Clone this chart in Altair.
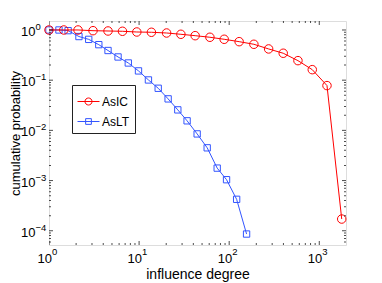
import altair as alt
import pandas as pd

# ---- data ----
series_names = ["AsIC", "AsLT"]
ic_x = [1, 1.46, 2.10, 3.08, 4.52, 6.54, 9.43, 13.7, 20.2, 29.1, 41.9, 61.1, 88, 129, 188, 274, 398, 580, 836, 1218, 1775]
ic_y = [1, 1, 1, 0.968, 0.955, 0.942, 0.912, 0.90, 0.871, 0.821, 0.77, 0.716, 0.653, 0.585, 0.519, 0.419, 0.344, 0.245, 0.162, 0.078, 1.71e-4]
lt_x = [1, 1.29, 1.63, 2.15, 2.76, 3.57, 4.52, 5.84, 7.59, 9.85, 12.7, 16.3, 21.0, 26.9, 34.1, 44.1, 57.0, 73.6, 93.5, 121, 156]
lt_y = [1, 1, 0.97, 0.74, 0.65, 0.51, 0.39, 0.29, 0.22, 0.153, 0.101, 0.069, 0.0424, 0.0256, 0.0155, 0.0085, 0.00449, 0.00177, 0.00104, 0.000423, 8.6e-5]

x_major = [1, 10, 100, 1000]
x_minor = [2, 3, 4, 5, 6, 7, 8, 9, 20, 30, 40, 50, 60, 70, 80, 90,
           200, 300, 400, 500, 600, 700, 800, 900]
x_exp = ["0", "1", "2", "3"]
y_major = [1, 0.1, 0.01, 0.001, 0.0001]
y_minor = [6e-5, 7e-5, 8e-5, 9e-5,
           2e-4, 3e-4, 4e-4, 5e-4, 6e-4, 7e-4, 8e-4, 9e-4,
           2e-3, 3e-3, 4e-3, 5e-3, 6e-3, 7e-3, 8e-3, 9e-3,
           0.02, 0.03, 0.04, 0.05, 0.06, 0.07, 0.08, 0.09,
           0.2, 0.3, 0.4, 0.5, 0.6, 0.7, 0.8, 0.9]
y_exp = ["0", "\u22121", "\u22122", "\u22123", "\u22124"]

x_title = "influence degree"
y_title = "cumulative probability"

W, H = 297, 224
FONT = "Liberation Sans"
RED = "#ff0000"
BLUE = "#3355ff"

df = pd.DataFrame({
    "x": ic_x + lt_x,
    "y": ic_y + lt_y,
    "series": [series_names[0]] * len(ic_x) + [series_names[1]] * len(lt_x),
    "idx": list(range(len(ic_x))) + list(range(len(lt_x))),
})
xmaj = pd.DataFrame({"v": x_major, "e": x_exp, "b": ["10"] * len(x_major)})
xmin = pd.DataFrame({"v": x_minor})
ymaj = pd.DataFrame({"v": y_major, "e": y_exp, "b": ["10"] * len(y_major)})
ymin = pd.DataFrame({"v": y_minor})

xs = alt.Scale(type="log", domain=[1, 1980], nice=False)
ys = alt.Scale(type="log", domain=[5.2e-5, 1.51], nice=False)
cs = alt.Scale(domain=series_names, range=[RED, BLUE])

circle_path = "M-1,0L1,0M0.32,0A0.32,0.32,0,1,1,-0.32,0A0.32,0.32,0,1,1,0.32,0Z"
square_path = "M-1,0L1,0M-0.26,-0.26L0.26,-0.26L0.26,0.26L-0.26,0.26Z"

axis_common = dict(labels=False, ticks=False, domain=False, grid=False,
                   titleFont=FONT, titleFontWeight="normal", titleColor="black")
x_axis = alt.Axis(title=x_title, titlePadding=22, titleFontSize=14, **axis_common)
y_axis = alt.Axis(title=y_title, titlePadding=27, titleFontSize=13, **axis_common)


def X(f="x"):
    return alt.X(f"{f}:Q", scale=xs, axis=x_axis)


def Y(f="y"):
    return alt.Y(f"{f}:Q", scale=ys, axis=y_axis)


def series_layers(name, color, shape, size):
    base = alt.Chart(df).transform_filter(alt.datum.series == name)
    line = base.mark_line(strokeWidth=1, color=color, clip=True).encode(
        x=X(), y=Y(), order="idx:Q")
    pts = base.mark_point(shape=shape, filled=False, size=size, strokeWidth=1,
                          color=color, opacity=1).encode(x=X(), y=Y())
    return [line, pts]


leg = alt.Legend(title=None, orient="none", legendX=23, legendY=64, padding=5,
                 strokeColor="#222222", fillColor="white", labelFont=FONT, labelFontSize=12,
                 labelColor="black", symbolSize=484, symbolStrokeWidth=1, symbolOpacity=1,
                 symbolFillColor="transparent", labelOffset=2, rowPadding=2)
legend_layer = alt.Chart(df).mark_point(filled=False, opacity=0).encode(
    x=X(), y=Y(),
    color=alt.Color("series:N", scale=cs, legend=leg),
    shape=alt.Shape("series:N", scale=alt.Scale(domain=series_names, range=[circle_path, square_path]),
                    legend=leg),
)


def xticks(data, ypix, size):
    return alt.Chart(data).mark_tick(clip=True, orient="vertical", size=size, thickness=1,
                                     color="black").encode(x=X("v"), y=alt.value(ypix))


def yticks(data, xpix, size):
    return alt.Chart(data).mark_tick(clip=True, orient="horizontal", size=size, thickness=1,
                                     color="black").encode(y=Y("v"), x=alt.value(xpix))


ticks = [
    xticks(xmaj, 0, 8), xticks(xmaj, H, 8), xticks(xmin, 0, 4), xticks(xmin, H, 4),
    yticks(ymaj, 0, 8), yticks(ymaj, W, 8), yticks(ymin, 0, 4), yticks(ymin, W, 4),
]

xl_base = alt.Chart(xmaj).mark_text(font=FONT, fontSize=13, align="right", baseline="middle",
                                    dx=3, color="black").encode(
    x=X("v"), y=alt.value(H + 14), text="b:N")
xl_exp = alt.Chart(xmaj).mark_text(font=FONT, fontSize=9.5, align="left", baseline="middle",
                                   dx=3, color="black").encode(
    x=X("v"), y=alt.value(H + 7), text="e:N")
yl_base = alt.Chart(ymaj).mark_text(font=FONT, fontSize=13, align="right", baseline="middle",
                                    dy=2, color="black").encode(
    y=Y("v"), x=alt.value(-13.5), text="b:N")
yl_exp = alt.Chart(ymaj).mark_text(font=FONT, fontSize=9.5, align="left", baseline="middle",
                                   dy=-3, color="black").encode(
    y=Y("v"), x=alt.value(-13.5), text="e:N")

layers = (series_layers(series_names[1], BLUE, "square", 40)
          + series_layers(series_names[0], RED, "circle", 72)
          + ticks + [xl_base, xl_exp, yl_base, yl_exp, legend_layer])

chart = alt.layer(*layers).properties(
    width=W, height=H,
    autosize=alt.AutoSizeParams(type="none"),
    padding={"left": 41, "top": 13, "right": 28, "bottom": 38},
).configure_view(stroke="black", strokeWidth=1).configure(background="white")

chart.save("out.html", embed_options={"renderer": "svg", "actions": False})
